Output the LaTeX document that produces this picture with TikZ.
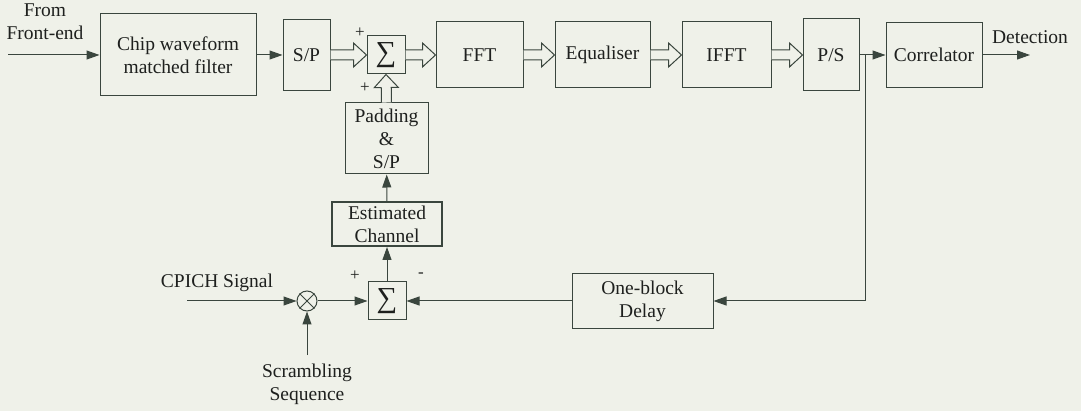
\documentclass[tikz,border=0pt]{standalone}
\usepackage{fontspec}
\setmainfont{Liberation Serif}
\usetikzlibrary{arrows.meta,positioning,calc}

\definecolor{paper}{RGB}{239,241,233}
\definecolor{ink}{RGB}{58,70,62}
\definecolor{txt}{RGB}{30,32,30}

% hollow (block) arrow between two anchors
\newcommand{\hollowarrow}[2]{%
    \coordinate (hb) at ($(#2)!13pt!(#1)$);
    \draw[ink, line width=1pt, fill=paper, line join=miter]
        ($(#1)!5pt!90:(#2)$) -- ($(hb)!5pt!90:(#2)$) -- ($(hb)!12pt!90:(#2)$) -- (#2)
        -- ($(hb)!12pt!-90:(#2)$) -- ($(hb)!5pt!-90:(#2)$) -- ($(#1)!5pt!-90:(#2)$);%
}

\begin{document}
\begin{tikzpicture}[
    x=1pt, y=-1pt,
    >={Triangle[length=13pt,width=9pt]},
    font=\fontsize{19.5}{23}\selectfont,
    text=txt,
    block/.style 2 args={
        rectangle,
        draw=ink,
        line width=1pt,
        minimum width=#1,
        minimum height=#2,
        inner sep=1pt,
        align=center
    },
    sumbox/.style={
        block={38pt}{38pt},
        font=\fontsize{29}{29}\selectfont
    },
    mixer/.style={
        circle,
        draw=ink,
        line width=1pt,
        minimum size=20pt,
        inner sep=0pt
    },
    sign/.style={
        font=\fontsize{17}{17}\selectfont,
        inner sep=0pt
    },
    wire/.style={
        ->,
        draw=ink,
        line width=1pt
    }
]

% paper
\fill[paper] (0,0) rectangle (1081,411);
\useasboundingbox (0,0) rectangle (1081,411);

% --- forward path ---
\node[block={156pt}{82pt}] (chip)   at (178,55)   {Chip waveform\\matched filter};
\node[block={47pt}{71pt}]  (sp)     at (306.5,55) {S/P};
\node[sumbox]              (sumtop) at (386,55)   {∑};
\node[block={87pt}{66pt}]  (fft)    at (479.5,55) {FFT};
\node[block={95pt}{66pt}]  (equal)  at (602.5,55) {Equaliser};
\node[block={89pt}{66pt}]  (ifft)   at (726.5,55) {IFFT};
\node[block={56pt}{72pt}]  (ps)     at (831,55)   {P/S};
\node[block={96pt}{65pt}]  (corr)   at (934,55)   {Correlator};

% --- channel estimation branch ---
\node[block={83pt}{71pt}]                  (pad)    at (386.5,138.5) {Padding\\\&\\S/P};
\node[block={110pt}{44pt}, line width=2pt] (est)    at (387,224)     {Estimated\\Channel};
\node[sumbox]                              (sumbot) at (387,301)     {∑};
\node[mixer]                               (mix)    at (307,301)     {};
\node[block={141pt}{55pt}]                 (delay)  at (642.5,301)   {One-block\\Delay};

% cross inside the mixer
\draw[ink, line width=1pt] (mix.north west) -- (mix.south east);
\draw[ink, line width=1pt] (mix.north east) -- (mix.south west);

% free ends and labels
\coordinate (in)    at (8,55);
\coordinate (out)   at (1030,55);
\coordinate (tap)   at (865,55);
\coordinate (cpin)  at (187,301);
\coordinate (scrin) at (307,355);

\node[align=center, inner sep=0pt] (from)  at (45,22)   {From\\Front-end};
\node[inner sep=0pt]               (det)   at (1030,37) {Detection};
\node[inner sep=0pt]               (cpich) at (217,283) {CPICH Signal};
\node[align=center, inner sep=0pt] (scr)   at (307,384) {Scrambling\\Sequence};

% signs at the adders
\node[sign] (plusa)  at (360,33)  {+};
\node[sign] (plusb)  at (365,88)  {+};
\node[sign] (plusc)  at (355,276) {+};
\node[sign] (minusd) at (421,275) {-};

% single line arrows
\draw[wire] (in) -- (chip);
\draw[wire] (chip) -- (sp);
\draw[wire] (ps) -- (corr);
\draw[wire] (corr) -- (out);
\draw[wire] (tap) |- (delay.east);
\draw[wire] (delay) -- (sumbot);
\draw[wire] (cpin) -- (mix);
\draw[wire] (scrin) -- (mix);
\draw[wire] (mix) -- (sumbot);
\draw[wire] (sumbot) -- (est);
\draw[wire] (est) -- (pad);

% block (parallel) arrows
\hollowarrow{sp.east}{sumtop.west}
\hollowarrow{sumtop.east}{fft.west}
\hollowarrow{fft.east}{equal.west}
\hollowarrow{equal.east}{ifft.west}
\hollowarrow{ifft.east}{ps.west}
\hollowarrow{pad.north}{sumtop.south}

\end{tikzpicture}
\end{document}
